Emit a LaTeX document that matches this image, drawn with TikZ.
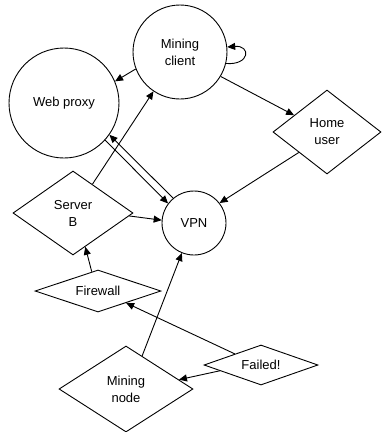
\documentclass[tikz,border=0pt]{standalone}
\usepackage{fontspec}
\setmainfont{Liberation Sans}
\usetikzlibrary{shapes.geometric,arrows.meta}
\tikzset{
  circ/.style={circle,draw,line width=0.9pt,inner sep=0pt,align=center,font=\fontsize{13}{17}\selectfont},
  dia/.style={diamond,draw,line width=0.9pt,inner sep=0pt,align=center,font=\fontsize{13}{17}\selectfont},
  conn/.style={line width=0.9pt,-{Triangle[length=8pt,width=7pt]}}
}
\begin{document}
\begin{tikzpicture}[x=1pt,y=-1pt]
\useasboundingbox (0,0) rectangle (382,432);
\node[circ,minimum size=94pt] (mc) at (180,52) {Mining\\client};
\node[circ,minimum size=110pt] (wp) at (64,103) {Web proxy};
\node[circ,minimum size=64pt] (vpn) at (194,223) {VPN};
\node[dia,minimum width=108pt,minimum height=84pt,aspect=1.29] (hu) at (327,132) {Home\\user};
\node[dia,minimum width=120pt,minimum height=84pt,aspect=1.43] (sb) at (73,213) {Server\\B};
\node[dia,minimum width=126pt,minimum height=42pt,aspect=3] (fw) at (98,291) {Firewall};
\node[dia,minimum width=114pt,minimum height=40pt,aspect=2.85] (fail) at (261,365) {Failed!};
\node[dia,minimum width=134pt,minimum height=86pt,aspect=1.56] (mn) at (126,389) {Mining\\node};
\draw[conn] (mc.-14) .. controls +(24,2) and +(24,-2) .. (mc.6);
\draw[conn] (mc.201) -- (wp.23);
\draw[conn] (mc.-31) -- (hu.153);
\draw[conn] (hu.216) -- (vpn.38);
\draw[conn] (wp.-42) -- (vpn.143);
\draw[conn] (vpn.130) -- (wp.-35);
\draw[conn] (sb.56) -- (mc.-124);
\draw[conn] (sb.-3) -- (vpn.175);
\draw[conn] (fw.108) -- (sb.-70);
\draw[conn] (mn.64) -- (vpn.-112);
\draw[conn] (fail.157) -- (fw.-23);
\draw[conn] (fail.188) -- (mn.10);
\end{tikzpicture}
\end{document}
